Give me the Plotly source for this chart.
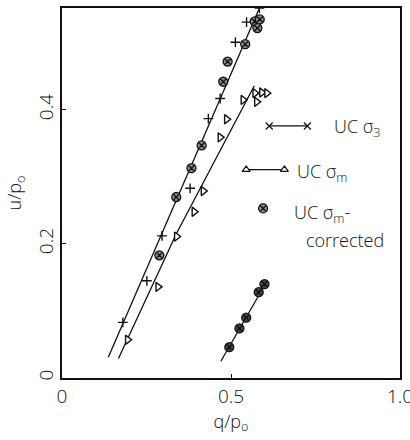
import plotly.graph_objects as go

# UC sigma_3 test points
s3_q = [0.180, 0.251, 0.296, 0.379, 0.433, 0.468, 0.513, 0.546, 0.584]
s3_u = [0.083, 0.145, 0.212, 0.283, 0.387, 0.417, 0.501, 0.531, 0.552]

# UC sigma_m test points
sm_q = [0.194, 0.284, 0.339, 0.391, 0.418, 0.468, 0.487, 0.536, 0.576, 0.571, 0.591, 0.606]
sm_u = [0.057, 0.136, 0.211, 0.248, 0.279, 0.359, 0.386, 0.415, 0.412, 0.425, 0.426, 0.425]

# UC sigma_m corrected points
cor_q = [0.288, 0.338, 0.383, 0.413, 0.477, 0.490, 0.542, 0.570, 0.585, 0.578]
cor_u = [0.183, 0.270, 0.313, 0.347, 0.442, 0.472, 0.498, 0.532, 0.535, 0.522]

# second corrected set (lower branch)
low_q = [0.495, 0.525, 0.545, 0.582, 0.599]
low_u = [0.046, 0.074, 0.090, 0.128, 0.140]

# hand-fitted trend lines
fit1_q = [0.137, 0.586]
fit1_u = [0.031, 0.554]
fit2_q = [0.167, 0.339, 0.569]
fit2_u = [0.029, 0.216, 0.436]
fit3_q = [0.470, 0.606]
fit3_u = [0.025, 0.144]

x_ticks = [0, 0.5, 1.0]
x_tick_text = ["0", "0.5", "1.0"]
y_ticks = [0, 0.2, 0.4]
y_tick_text = ["0", "0.2", "0.4"]

INK = "#111111"
FONT = "Open Sans"

fig = go.Figure()

for fq, fu in [(fit1_q, fit1_u), (fit2_q, fit2_u), (fit3_q, fit3_u)]:
    fig.add_trace(go.Scatter(x=fq, y=fu, mode="lines",
                             line=dict(color=INK, width=1.3), hoverinfo="skip"))

fig.add_trace(go.Scatter(x=s3_q, y=s3_u, mode="markers", name="UC σ3",
                         marker=dict(symbol="cross-thin", size=7,
                                     line=dict(color=INK, width=1.4))))
fig.add_trace(go.Scatter(x=sm_q, y=sm_u, mode="markers", name="UC σm",
                         marker=dict(symbol="triangle-right", size=8, color="white",
                                     line=dict(color=INK, width=1.4))))
fig.add_trace(go.Scatter(x=cor_q, y=cor_u, mode="markers", name="UC σm-corrected",
                         marker=dict(symbol="circle-x", size=9, color="#8a8a8a",
                                     line=dict(color=INK, width=1.3))))
fig.add_trace(go.Scatter(x=low_q, y=low_u, mode="markers", showlegend=False,
                         marker=dict(symbol="circle-x", size=9, color="#444444",
                                     line=dict(color=INK, width=1.3))))

# hand-drawn style key inside the frame
key = [
    (0.613, 0.726, 0.376, "x-thin", "white", "UC σ<sub>3</sub>", 0.80, 0.373),
    (0.545, 0.658, 0.311, "triangle-up", "white", "UC σ<sub>m</sub>", 0.69, 0.307),
    (None, 0.595, 0.253, "circle-x", "#8a8a8a", "UC σ<sub>m</sub>-", 0.68, 0.246),
]
for x0, x1, yk, sym, fillc, label, tx, ty in key:
    xs = [x1] if x0 is None else [x0, x1]
    fig.add_trace(go.Scatter(x=xs, y=[yk] * len(xs),
                             mode="markers" if x0 is None else "lines+markers",
                             line=dict(color=INK, width=1.2),
                             marker=dict(symbol=sym, size=7 if x0 is not None else 9,
                                         color=fillc, line=dict(color=INK, width=1.2)),
                             hoverinfo="skip"))
    fig.add_annotation(x=tx, y=ty, text=label, showarrow=False, xanchor="left",
                       align="left", font=dict(family=FONT, size=18, color=INK, weight=300))
fig.add_annotation(x=0.715, y=0.206, text="corrected", showarrow=False, xanchor="left",
                   font=dict(family=FONT, size=18, color=INK, weight=300))

fig.update_layout(
    width=410, height=440,
    margin=dict(l=62, r=10, t=8, b=62, autoexpand=False),
    paper_bgcolor="white", plot_bgcolor="white",
    showlegend=False,
    font=dict(family=FONT, size=18, color=INK, weight=300),
)
fig.update_xaxes(range=[0, 1.0], tickvals=x_ticks, ticktext=x_tick_text,
                 ticklabeloverflow="allow", automargin=False,
                 tickfont=dict(size=19, weight=300),
                 showgrid=False, zeroline=False, showline=True, mirror=True,
                 linecolor=INK, linewidth=1.6, ticks="inside", ticklen=4,
                 tickcolor=INK,
                 title=dict(text="q/p<sub>o</sub>", font=dict(size=18, weight=300), standoff=4))
fig.update_yaxes(range=[0, 0.552], tickvals=y_ticks, ticktext=y_tick_text,
                 tickangle=-90, ticklabeloverflow="allow", automargin=False,
                 tickfont=dict(size=19, weight=300),
                 showgrid=False, zeroline=False, showline=True, mirror=True,
                 linecolor=INK, linewidth=1.6, ticks="inside", ticklen=4,
                 tickcolor=INK,
                 title=dict(text="u/p<sub>o</sub>", font=dict(size=18, weight=300), standoff=6))

fig.write_html("out.html")
